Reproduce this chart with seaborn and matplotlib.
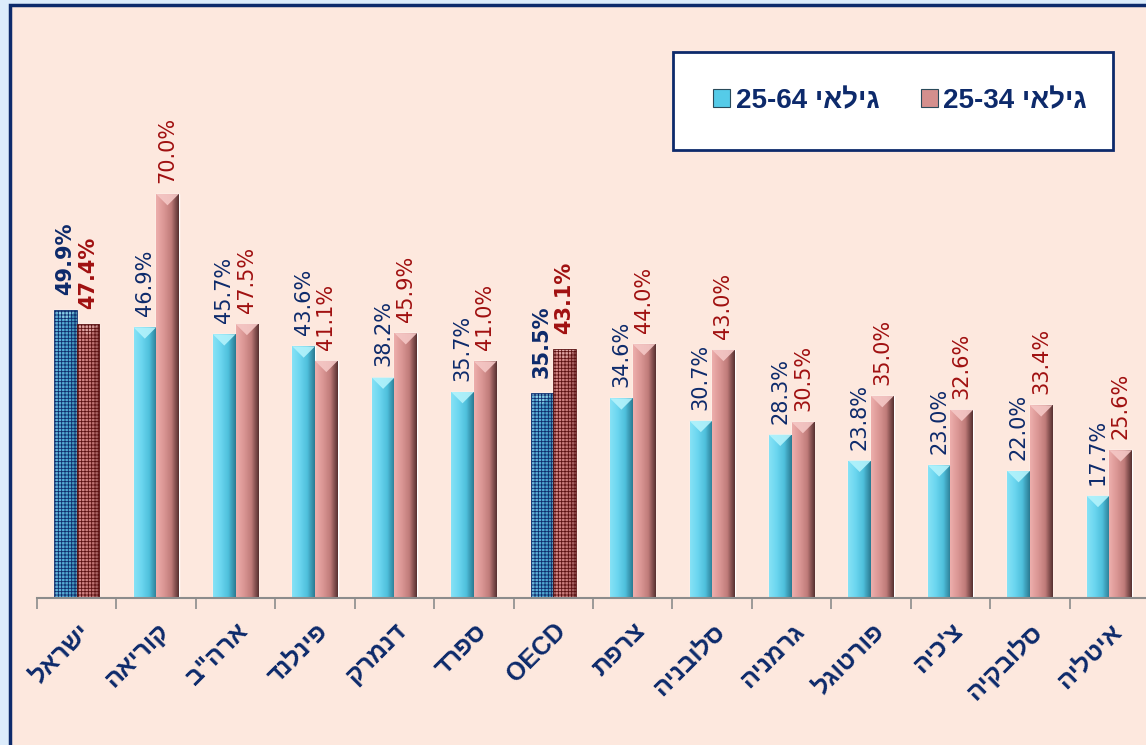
import numpy as np
import pandas as pd
import matplotlib
matplotlib.use('Agg')
import matplotlib.pyplot as plt
import matplotlib.transforms as mtransforms
import seaborn as sns
from matplotlib.patches import Rectangle, Polygon
from matplotlib.colors import LinearSegmentedColormap

# data
countries = ['ישראל', 'קוריאה', 'ארה"ב', 'פינלנד', 'דנמרק', 'ספרד', 'OECD',
             'צרפת', 'סלובניה', 'גרמניה', 'פורטוגל', "צ'כיה", 'סלובקיה', 'איטליה']
age_25_64 = [49.9, 46.9, 45.7, 43.6, 38.2, 35.7, 35.5, 34.6, 30.7, 28.3, 23.8, 23.0, 22.0, 17.7]
age_25_34 = [47.4, 70.0, 47.5, 41.1, 45.9, 41.0, 43.1, 44.0, 43.0, 30.5, 35.0, 32.6, 33.4, 25.6]
series_names = ['גילאי 25-64', 'גילאי 25-34']
highlight = ['ישראל', 'OECD']

NAVY = '#0d2a6b'
DARK_RED = '#a01010'


def is_hebrew(s):
    return any('\u0590' <= ch <= '\u05ff' for ch in s)


def vis(s):
    # matplotlib has no bidi support, so put Hebrew in visual order
    tokens = s.split(' ')
    if not is_hebrew(s):
        return s
    tokens = tokens[::-1]
    return ' '.join(t[::-1] if is_hebrew(t) else t for t in tokens)


sns.set_theme(style='white')
plt.rcParams['font.family'] = ['Liberation Sans', 'DejaVu Sans']
plt.rcParams['hatch.linewidth'] = 0.6

W, H = 1146, 745
fig = plt.figure(figsize=(W / 100, H / 100), dpi=100, facecolor='#dcecfb')

# peach panel with navy frame
fig.patches.append(Rectangle((10 / W, -0.05), 1.0, 1 - 5 / H + 0.05,
                             transform=fig.transFigure, facecolor='#fde8de',
                             edgecolor=NAVY, linewidth=2.5, zorder=-1))

ymax = 80
ax_pos = [37 / W, 147 / H, 1112 / W, 5.771 * ymax / H]
ax = fig.add_axes(ax_pos)
ax.set_facecolor('none')

df = pd.DataFrame({
    'country': countries * 2,
    'value': age_25_64 + age_25_34,
    'series': [series_names[0]] * len(countries) + [series_names[1]] * len(countries),
})

sns.barplot(data=df, x='country', y='value', hue='series', order=countries,
            hue_order=series_names, palette=['#55cbe8', '#d48f8d'], saturation=1,
            width=0.57, errorbar=None, legend=False, ax=ax, zorder=2)

# pixel scale, to size the bevel tops
px_x = ax_pos[2] * W / len(countries)
px_y = ax_pos[3] * H / ymax

cmaps = [
    LinearSegmentedColormap.from_list('b', ['#86e2f6', '#6bd6ef', '#4fc0dc', '#2a7a92']),
    LinearSegmentedColormap.from_list('r', ['#edaeac', '#db9795', '#c07c7a', '#573030']),
]
top_cols = ['#b4f3fc', '#f5c8c6']
hl_face = ['#4a93c6', '#c97474']
hl_hatch = ['#0d2a6b', '#5a1010']
grad = np.linspace(0, 1, 64).reshape(1, -1)

for k, cont in enumerate(ax.containers):
    for patch, country in zip(cont.patches, countries):
        x0, w, h = patch.get_x(), patch.get_width(), patch.get_height()
        hl = country in highlight
        if hl:
            patch.set_facecolor(hl_face[k])
        im = ax.imshow(grad, extent=[x0, x0 + w, 0, h], aspect='auto', cmap=cmaps[k],
                       alpha=0.45 if hl else 1.0, zorder=2.1)
        im.set_clip_path(patch)
        depth = (w * px_x / 2) / px_y
        ax.add_patch(Polygon([[x0, h], [x0 + w, h], [x0 + w / 2, h - depth]],
                             closed=True, facecolor=top_cols[k], edgecolor='none',
                             alpha=0.5 if hl else 0.9, zorder=2.2))
        if hl:
            ax.add_patch(Rectangle((x0, 0), w, h, fill=False, hatch='+++++',
                                   edgecolor=hl_hatch[k], linewidth=0.6, zorder=2.3))

# value labels
for cont, vals, col in zip(ax.containers, [age_25_64, age_25_34], [NAVY, DARK_RED]):
    for patch, country, v in zip(cont.patches, countries, vals):
        bold = country in highlight
        ax.annotate(f'{v:.1f}%', (patch.get_x() + patch.get_width() / 2, patch.get_height()),
                    xytext=(0, 11 if bold else 8), textcoords='offset points', rotation=90,
                    ha='center', va='bottom', color=col, fontsize=15,
                    family='DejaVu Sans', fontweight='bold' if bold else 'normal')

ax.set_xlim(-0.5, len(countries) - 0.5)
ax.set_ylim(0, ymax)
ax.set_xticks(range(len(countries)))
ax.set_xticklabels([vis(c) for c in countries], rotation=45, ha='right',
                   rotation_mode='anchor', fontsize=18, fontweight='bold', color=NAVY)
shift = mtransforms.ScaledTranslation(-0.08, 0, fig.dpi_scale_trans)
for lab in ax.get_xticklabels():
    lab.set_transform(lab.get_transform() + shift)
ax.set_xticks(np.arange(-0.5, len(countries), 1), minor=True)
ax.tick_params(axis='x', which='major', length=0, pad=15)
ax.tick_params(axis='x', which='minor', bottom=True, length=8, width=1.2,
               color='#8c8c8c', direction='out')
ax.set_yticks([])
ax.set_xlabel('')
ax.set_ylabel('')
for side in ['left', 'right', 'top']:
    ax.spines[side].set_visible(False)
ax.spines['bottom'].set_color('#8c8c8c')
ax.spines['bottom'].set_linewidth(1.5)

# legend box
fig.patches.append(Rectangle((673 / W, 1 - 150 / H), 440 / W, 98 / H,
                             transform=fig.transFigure, facecolor='white',
                             edgecolor=NAVY, linewidth=2, zorder=1))
handles = [Rectangle((0, 0), 1, 1, facecolor=c, edgecolor='#2a4a5a', linewidth=0.8)
           for c in ['#55cbe8', '#d48f8d']]
fig.legend(handles, [vis(s) for s in series_names], loc='center',
           bbox_to_anchor=(900 / W, 1 - 101 / H), ncol=2, frameon=False,
           prop={'weight': 'bold', 'size': 20}, labelcolor=NAVY,
           handlelength=0.6, handleheight=0.6, handletextpad=0.2, columnspacing=1.5)

fig.savefig('out.png', dpi=100, facecolor=fig.get_facecolor())
